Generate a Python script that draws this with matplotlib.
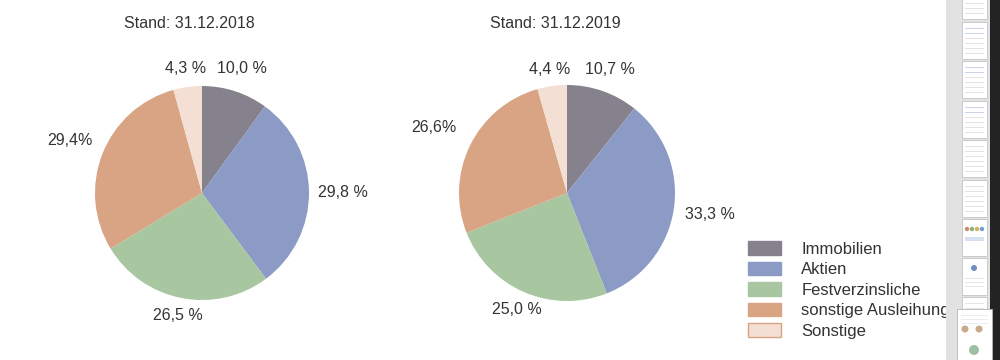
import matplotlib
matplotlib.use("Agg")
import matplotlib.pyplot as plt
from matplotlib.patches import Patch, Rectangle, Circle
from matplotlib.transforms import IdentityTransform
import numpy as np

plt.rcParams['font.family'] = ['Liberation Sans', 'DejaVu Sans']

# ---------------- data ----------------
categories = ["Immobilien", "Aktien", "Festverzinsliche",
              "sonstige Ausleihungen", "Sonstige"]
values_2018 = [10.0, 29.8, 26.5, 29.4, 4.3]
values_2019 = [10.7, 33.3, 25.0, 26.6, 4.4]
labels_2018 = ["10,0 %", "29,8 %", "26,5 %", "29,4%", "4,3 %"]
labels_2019 = ["10,7 %", "33,3 %", "25,0 %", "26,6%", "4,4 %"]
titles = ["Stand: 31.12.2018", "Stand: 31.12.2019"]

# ---------------- style ----------------
colors = ["#85818d", "#8c9ac6", "#a8c6a0", "#d9a484", "#f3dfd4"]
text_color = "#333333"
fs = 11.5

W, H = 1000, 360
fig = plt.figure(figsize=(W / 100, H / 100), dpi=100)
fig.patch.set_facecolor("white")
ax = fig.add_axes([0, 0, 1, 1])

def py(y):  # convert top-based pixel to data y
    return H - y

pies = [
    dict(vals=values_2018, labs=labels_2018, title=titles[0],
         cx=202, cy=193, r=107, title_dx=-13,
         dist=[1.22, 1.32, 1.17, 1.33, 1.17]),
    dict(vals=values_2019, labs=labels_2019, title=titles[1],
         cx=567, cy=193, r=108, title_dx=-12,
         dist=[1.21, 1.34, 1.18, 1.37, 1.15]),
]

for p in pies:
    center = (p["cx"], py(p["cy"]))
    wedges, _ = ax.pie(p["vals"], colors=colors, startangle=90,
                       counterclock=False, center=center, radius=p["r"],
                       wedgeprops=dict(linewidth=0))
    for w, lab, d in zip(wedges, p["labs"], p["dist"]):
        mid = np.deg2rad((w.theta1 + w.theta2) / 2)
        x = center[0] + p["r"] * d * np.cos(mid)
        y = center[1] + p["r"] * d * np.sin(mid)
        ax.text(x, y, lab, ha="center", va="center", fontsize=fs,
                color=text_color)
    ax.text(p["cx"] + p["title_dx"], py(23), p["title"], ha="center",
            va="center", fontsize=fs, color=text_color)

ax.set_xlim(0, W)
ax.set_ylim(0, H)
ax.set_aspect("auto")
ax.axis("off")

# legend
handles = []
for c, name in zip(colors, categories):
    ec = "#d9a484" if name == "Sonstige" else c
    handles.append(Patch(facecolor=c, edgecolor=ec, linewidth=1.0, label=name))
leg = ax.legend(handles=handles, loc="upper left",
                bbox_to_anchor=(748, py(241)), bbox_transform=ax.transData,
                frameon=False, fontsize=12, borderpad=0, borderaxespad=0,
                handlelength=1.95, handleheight=0.9, handletextpad=1.25,
                labelspacing=0.29)
for t in leg.get_texts():
    t.set_color(text_color)

# ---------------- sidebar (page thumbnails) ----------------
def frect(x, y, w, h, **kw):
    r = Rectangle((x, H - y - h), w, h, transform=IdentityTransform(), **kw)
    fig.patches.append(r)
    return r

def fcirc(x, y, rad, **kw):
    c = Circle((x, H - y), rad, transform=IdentityTransform(), **kw)
    fig.patches.append(c)
    return c

frect(946, 0, 44, H, facecolor="#e2e2e2", edgecolor="none", zorder=5)
frect(990, 0, 10, H, facecolor="#232323", edgecolor="none", zorder=5)

thumb_tops = [-18, 22, 61, 101, 140, 180, 219, 258, 297]
for i, t in enumerate(thumb_tops):
    frect(962, t, 25, 37, facecolor="white", edgecolor="#c4c4c4",
          linewidth=0.6, zorder=6)
    if i == 6:
        for k in range(4):
            fcirc(967 + k * 5, t + 10, 2.2, facecolor=["#d08a6a", "#8fb07a", "#d7b25a", "#6f9ccf"][k],
                  edgecolor="none", zorder=7)
        frect(965, t + 18, 19, 4, facecolor="#d6e0ee", edgecolor="none", zorder=7)
        continue
    if i == 7:
        fcirc(974, t + 10, 3, facecolor="#6f8fc0", edgecolor="none", zorder=7)
        for k in range(3):
            frect(965, t + 20 + k * 4, 19, 1.1, facecolor="#e6e6e6", edgecolor="none", zorder=7)
        continue
    for k in range(6):
        yy = t + 6 + k * 5
        col = "#c9d6ea" if (i in (1, 2, 3) and k < 2) else "#e4e4e4"
        frect(965, yy, 19, 1.2, facecolor=col, edgecolor="none", zorder=7)

# enlarged thumbnail at bottom
frect(957, 309, 35, 55, facecolor="white", edgecolor="#b5b5b5",
      linewidth=0.6, zorder=8)
for k in range(3):
    frect(961, 315 + k * 4, 27, 1.0, facecolor="#ececec", edgecolor="none", zorder=9)
fcirc(965, 329, 3.5, facecolor="#c8a98a", edgecolor="none", zorder=9)
fcirc(979, 329, 3.5, facecolor="#c8a98a", edgecolor="none", zorder=9)
fcirc(974, 350, 5, facecolor="#9cbfa6", edgecolor="none", zorder=9)

fig.savefig("out.png", dpi=100, facecolor="white")
